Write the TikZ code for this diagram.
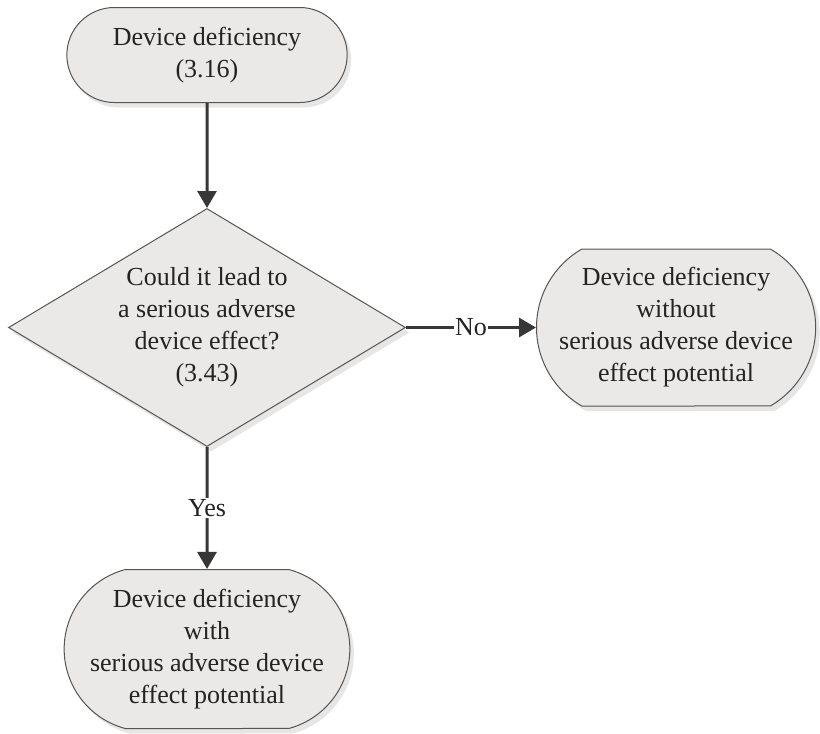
\documentclass[tikz,border=0pt]{standalone}
\usepackage{fontspec}
\setmainfont{Liberation Serif}
\usepackage{tikz}
\usetikzlibrary{shapes.misc, shapes.geometric, arrows.meta, positioning, shadows}
\definecolor{FillBox}{RGB}{235, 233, 231}
\definecolor{LineColor}{RGB}{85, 85, 85}
\definecolor{ArrowColor}{RGB}{55, 55, 55}
\definecolor{TextColor}{RGB}{35, 35, 35}

\begin{document}
\begin{tikzpicture}[
        % Styles globaux
        base/.style={align=center, font=\fontsize{26}{32}\selectfont, text=TextColor},
        shape_base/.style={base, fill=FillBox, draw=LineColor, line width=1pt, drop shadow={opacity=0.2, shadow xshift=4pt, shadow yshift=-5pt}},
        % Style "Debut" (Haut)
        box_start/.style={shape_base, rounded rectangle, minimum width=287pt, minimum height=95pt},
        % Style "Resultat" (Droite et Bas)
        box_result/.style={shape_base, rounded rectangle, rounded rectangle arc length=150, inner xsep=0pt, minimum width=276pt, minimum height=159pt},
        % Style "Question" (Milieu)
        box_decision/.style={shape_base, diamond, aspect=1.67, minimum width=397pt, minimum height=238pt, inner sep=0pt},
        % Style des etiquettes
        label_edge/.style={base, fill=white, inner sep=1pt},
        % Style des fleches
        arrow/.style={-{Triangle[length=17pt, width=19pt]}, line width=3pt, ArrowColor},
        % Espacement global
        node distance=105pt
    ]

    \useasboundingbox (-207pt, 55pt) rectangle (613pt, -679pt);

    % --- NOEUDS ---
    \node[box_start] (start) {Device deficiency\\(3.16)};
    \node[box_decision, below=of start] (question) {Could it lead to\\a serious adverse\\device effect?\\(3.43)};
    \node[box_result, rounded rectangle arc length=120, minimum height=157pt, right=130pt of question] (without) {Device deficiency\\without\\serious adverse device\\effect potential};
    \node[box_result, below=122pt of question] (with) {Device deficiency\\with\\serious adverse device\\effect potential};

    % --- FLECHES ---
    \draw[arrow] (start) -- (question);
    \draw[arrow] (question) -- node[label_edge] {No} (without);
    \draw[arrow] (question) -- node[label_edge] {Yes} (with);

\end{tikzpicture}
\end{document}
